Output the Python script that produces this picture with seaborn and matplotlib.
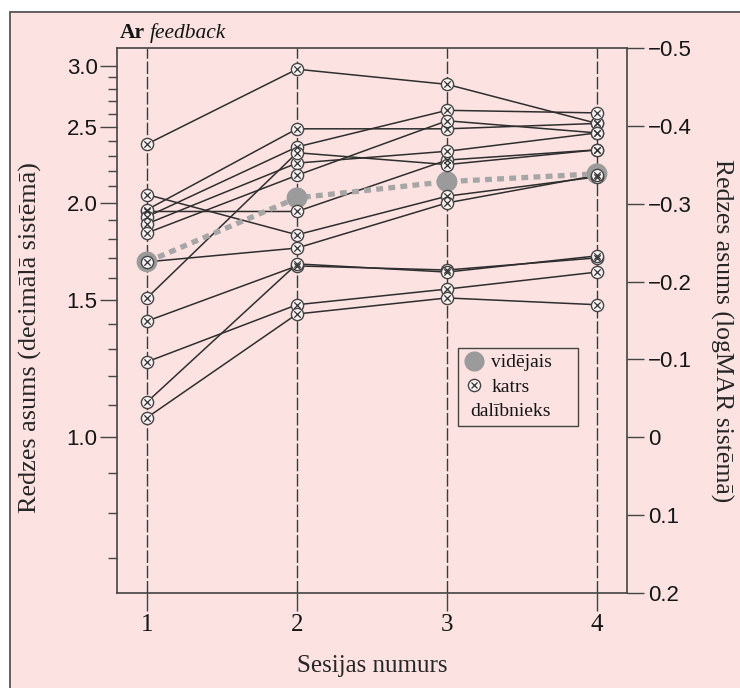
import numpy as np
import pandas as pd
import matplotlib
matplotlib.use("Agg")
import matplotlib.pyplot as plt
import matplotlib.transforms as mtransforms
from matplotlib.patches import Rectangle
from matplotlib.lines import Line2D
from matplotlib.ticker import FixedLocator, NullFormatter
import seaborn as sns

# ---------------- data (decimal visual acuity per session) ----------------
sessions = [1, 2, 3, 4]
participants = ["P01", "P02", "P03", "P04", "P05", "P06", "P07",
                "P08", "P09", "P10", "P11", "P12", "P13"]
p01 = [2.38, 2.97, 2.84, 2.53]
p02 = [2.05, 1.82, 2.04, 2.16]
p03 = [1.95, 1.95, 2.27, 2.34]
p04 = [1.96, 2.49, 2.49, 2.53]
p05 = [1.92, 2.36, 2.63, 2.61]
p06 = [1.88, 2.25, 2.33, 2.46]
p07 = [1.51, 2.32, 2.24, 2.34]
p08 = [1.83, 2.17, 2.55, 2.46]
p09 = [1.68, 1.75, 2.00, 2.17]
p10 = [1.41, 1.66, 1.64, 1.70]
p11 = [1.11, 1.67, 1.63, 1.71]
p12 = [1.25, 1.48, 1.55, 1.63]
p13 = [1.06, 1.44, 1.51, 1.48]
participant_values = [p01, p02, p03, p04, p05, p06, p07,
                      p08, p09, p10, p11, p12, p13]
mean_values = [1.68, 2.03, 2.13, 2.18]

left_major = [1.0, 1.5, 2.0, 2.5, 3.0]
left_major_labels = ["1.0", "1.5", "2.0", "2.5", "3.0"]
left_minor = [0.7, 0.8, 0.9, 1.1, 1.2, 1.3, 1.4, 1.6, 1.7, 1.8, 1.9,
              2.1, 2.2, 2.3, 2.4, 2.6, 2.7, 2.8, 2.9]
logmar_ticks = [0.2, 0.1, 0.0, -0.1, -0.2, -0.3, -0.4, -0.5]
logmar_labels = ["0.2", "0.1", "0", "\u22120.1", "\u22120.2", "\u22120.3",
                 "\u22120.4", "\u22120.5"]

title_bold = "Ar"
title_italic = "feedback"
xlabel = "Sesijas numurs"
ylabel_left = "Redzes asums (decimālā sistēmā)"
ylabel_right = "Redzes asums (logMAR sistēmā)"
legend_labels = ["vidējais", "katrs", "dalībnieks"]

df = pd.DataFrame(
    [(p, s, v) for p, vals in zip(participants, participant_values)
     for s, v in zip(sessions, vals)],
    columns=["participant", "session", "value"],
)
mean_df = pd.DataFrame({"session": sessions, "value": mean_values})

# ---------------- style ----------------
PINK = "#fde2e2"
DARK = "#3a3a3a"
TXT = "#151515"
SERIF = ["Liberation Serif", "DejaVu Serif"]
SANS = ["Liberation Sans", "DejaVu Sans"]

sns.set_theme(style="ticks", rc={
    "axes.facecolor": "none",
    "figure.facecolor": "white",
    "axes.edgecolor": "#444444",
    "xtick.color": "#444444",
    "ytick.color": "#444444",
    "text.color": TXT,
})
plt.rcParams["font.family"] = SERIF

W, H = 740, 688
fig = plt.figure(figsize=(W / 100, H / 100), dpi=100, facecolor="white")
fig.patches.append(Rectangle((10 / W, -0.05), 1.2, 0.05 + 1 - 12 / H,
                             transform=fig.transFigure, facecolor=PINK,
                             edgecolor="#555555", linewidth=1.3, zorder=-10))

L, R, T, B = 117, 627, 48, 593
ax = fig.add_axes([L / W, (H - B) / H, (R - L) / W, (B - T) / H])
ax.set_facecolor("none")
ax.set_yscale("log")
ax.set_xlim(0.8, 4.2)
ax.set_ylim(10 ** -0.2, 10 ** 0.5)

# vertical dashed guide lines at each session
ax.set_axisbelow(True)
ax.xaxis.grid(True, color=DARK, linestyle=(0, (9, 2)), linewidth=1.0)
ax.yaxis.grid(False)

# individual lines
sns.lineplot(data=df, x="session", y="value", units="participant",
             estimator=None, color="#2e2e2e", linewidth=1.1, ax=ax,
             legend=False, zorder=3)
# mean dotted line
sns.lineplot(data=mean_df, x="session", y="value", color="#a6a6a6",
             linewidth=3.8, ax=ax, legend=False, zorder=4)
ax.lines[-1].set_dashes([1.3, 1.0])
ax.lines[-1].set_dash_capstyle("butt")
# mean markers
sns.scatterplot(data=mean_df, x="session", y="value", s=15 ** 2,
                color="#9b9b9b", edgecolor="none", ax=ax, legend=False,
                zorder=5)
# individual markers: circle with x
sns.scatterplot(data=df, x="session", y="value", marker="o", s=8.8 ** 2,
                facecolor="#f7f1f1", edgecolor="#444444", linewidth=1.0,
                ax=ax, legend=False, zorder=6)
sns.scatterplot(data=df, x="session", y="value", marker="x", s=4.6 ** 2,
                color="#333333", linewidth=0.9, ax=ax, legend=False,
                zorder=7)

# axes / spines
for side in ["left", "bottom", "top"]:
    ax.spines[side].set_visible(True)
    ax.spines[side].set_linewidth(1.2)
    ax.spines[side].set_color("#444444")
ax.spines["right"].set_visible(False)

ax.set_xticks(sessions)
ax.set_xticklabels([str(s) for s in sessions], fontfamily=SERIF, fontsize=18)
ax.tick_params(axis="x", length=13, width=1.0, pad=2, direction="out",
               top=False, labelcolor=TXT)

ax.yaxis.set_major_locator(FixedLocator(left_major))
ax.yaxis.set_minor_locator(FixedLocator(left_minor))
ax.yaxis.set_minor_formatter(NullFormatter())
ax.set_yticklabels(left_major_labels, fontfamily=SANS, fontsize=16)
ax.tick_params(axis="y", which="major", length=12, width=1.0, pad=2,
               direction="out", labelcolor=TXT)
ax.tick_params(axis="y", which="minor", length=6.5, width=1.0,
               direction="out")

ax.set_xlabel(xlabel, fontsize=18, labelpad=14)
ax.set_ylabel(ylabel_left, fontsize=18.8)
ax.yaxis.set_label_coords(-0.148, 0.469)

# right logMAR axis
ax2 = ax.twinx()
ax2.set_facecolor("none")
ax2.grid(False)
ax2.set_ylim(0.2, -0.5)
ax2.set_yticks(logmar_ticks)
ax2.set_yticklabels(logmar_labels, fontfamily=SANS, fontsize=16)
ax2.tick_params(axis="y", length=12, width=1.0, pad=3, direction="out",
                labelcolor=TXT)
for side in ["left", "bottom", "top"]:
    ax2.spines[side].set_visible(False)
ax2.spines["right"].set_visible(True)
ax2.spines["right"].set_linewidth(1.2)
ax2.spines["right"].set_color("#444444")
ax2.set_ylabel(ylabel_right, fontsize=18.5, rotation=-90, va="bottom")
ax2.yaxis.set_label_coords(1.163, 0.481)

# title
t1 = ax.text(0.006, 1.019, title_bold, transform=ax.transAxes,
             fontsize=15.5, fontweight="bold", va="baseline", ha="left")
ax.annotate(title_italic, xy=(1, 0), xycoords=t1, xytext=(3, 0),
            textcoords="offset points", fontsize=15.5, fontstyle="italic",
            va="bottom", ha="left")

# legend
h_mean = Line2D([], [], marker="o", ls="none", markersize=14.5,
                markerfacecolor="#9b9b9b", markeredgecolor="none")
h_circ = Line2D([], [], marker="o", ls="none", markersize=8.8,
                markerfacecolor="#f7f1f1", markeredgecolor="#444444",
                markeredgewidth=1.0)
h_x = Line2D([], [], marker="x", ls="none", markersize=4.6,
             markeredgecolor="#333333", markeredgewidth=0.9)
h_blank = Line2D([], [], ls="none")
leg = ax.legend([h_mean, (h_circ, h_x), h_blank], legend_labels,
                loc="upper left", bbox_to_anchor=(0.669, 0.4495),
                borderaxespad=0, frameon=True, fancybox=False,
                edgecolor="#444444", facecolor=PINK, framealpha=1,
                prop={"family": SERIF, "size": 14}, handlelength=1.0,
                handletextpad=0.4, labelspacing=0.35, borderpad=0.3)
leg.get_frame().set_linewidth(1.0)
leg.set_zorder(10)
t3 = leg.get_texts()[2]
t3.set_transform(t3.get_transform() + mtransforms.Affine2D().translate(-21, 0))

fig.savefig("out.png", dpi=100, facecolor="white")
